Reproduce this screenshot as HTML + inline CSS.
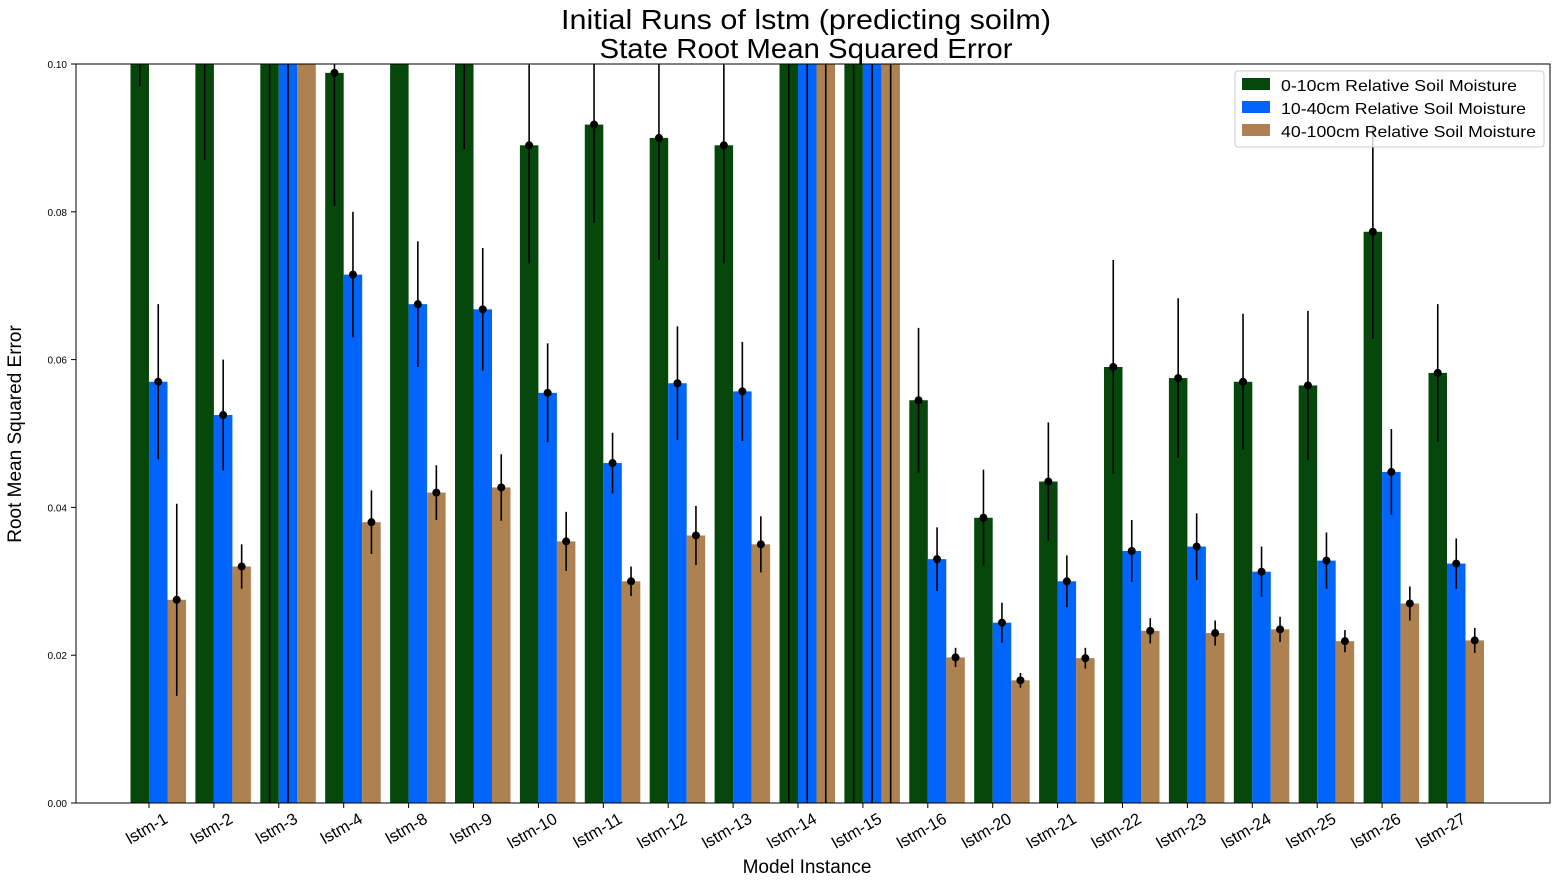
<!DOCTYPE html>
<html><head><meta charset="utf-8"><style>
body{margin:0;background:#fff;}
svg{font-family:"Liberation Sans","DejaVu Sans",sans-serif;}
</style></head><body>
<svg id="chart" width="1559" height="884" viewBox="0 0 1559 884">
<defs><clipPath id="plotclip"><rect x="76" y="64" width="1474" height="739"/></clipPath></defs>
<text x="806" y="29" text-anchor="middle" font-size="28" textLength="490" lengthAdjust="spacingAndGlyphs">Initial Runs of lstm (predicting soilm)</text>
<text x="806" y="58" text-anchor="middle" font-size="28" textLength="413" lengthAdjust="spacingAndGlyphs">State Root Mean Squared Error</text>
<g id="bars" clip-path="url(#plotclip)"></g>
<g id="errs" clip-path="url(#plotclip)"></g>
<rect x="76" y="64" width="1474" height="739" fill="none" stroke="#000" stroke-width="1"/>
<g id="yaxis"></g>
<g id="xaxis"></g>
<text transform="translate(21,434) rotate(-90)" text-anchor="middle" font-size="19">Root Mean Squared Error</text>
<text x="807" y="873" text-anchor="middle" font-size="19">Model Instance</text>
<g>
<rect x="1235" y="71" width="309" height="76" rx="3" fill="#fff" fill-opacity="0.8" stroke="#ccc"/>
<rect x="1242" y="78" width="28" height="12" fill="#06470c"/>
<text x="1281" y="91" font-size="16" textLength="236" lengthAdjust="spacingAndGlyphs">0-10cm Relative Soil Moisture</text>
<rect x="1242" y="101" width="28" height="12" fill="#0165fc"/>
<text x="1281" y="114" font-size="16" textLength="245" lengthAdjust="spacingAndGlyphs">10-40cm Relative Soil Moisture</text>
<rect x="1242" y="124" width="28" height="12" fill="#ad8150"/>
<text x="1281" y="137" font-size="16" textLength="255" lengthAdjust="spacingAndGlyphs">40-100cm Relative Soil Moisture</text>
</g>
</svg>
<script>
const categories=["lstm-1","lstm-2","lstm-3","lstm-4","lstm-8","lstm-9","lstm-10","lstm-11","lstm-12","lstm-13","lstm-14","lstm-15","lstm-16","lstm-20","lstm-21","lstm-22","lstm-23","lstm-24","lstm-25","lstm-26","lstm-27"];
const green=[0.118,0.112,0.15,0.0988,0.125,0.11,0.089,0.0918,0.090,0.089,0.16,0.14,0.0545,0.0386,0.0435,0.059,0.0575,0.057,0.0565,0.0773,0.0582];
const greenErr=[0.021,0.025,0.16,0.018,0.01,0.0215,0.016,0.0133,0.0165,0.016,0.17,0.15,0.0098,0.0065,0.008,0.0145,0.0108,0.0092,0.0101,0.0145,0.0093];
const blue=[0.057,0.0525,0.2,0.0715,0.0675,0.0668,0.0555,0.046,0.0568,0.0557,0.18,0.19,0.033,0.0244,0.030,0.0341,0.0347,0.0313,0.0328,0.0448,0.0324];
const blueErr=[0.0105,0.0075,0.21,0.0085,0.0085,0.0083,0.0067,0.0041,0.0077,0.0067,0.19,0.2,0.0043,0.0027,0.0035,0.0042,0.0045,0.0034,0.0038,0.0058,0.0034];
const brown=[0.0275,0.032,0.13,0.038,0.042,0.0427,0.0354,0.030,0.0362,0.035,0.15,0.13,0.0197,0.0166,0.0196,0.0233,0.023,0.0235,0.0219,0.027,0.022];
const brownErr=[0.013,0.003,0.01,0.0043,0.0037,0.0045,0.004,0.002,0.004,0.0038,0.16,0.14,0.0013,0.001,0.0014,0.0017,0.0017,0.0017,0.0015,0.0023,0.0017];
const yTicks=[0,0.02,0.04,0.06,0.08,0.10];
const yTickLabels=["0.00","0.02","0.04","0.06","0.08","0.10"];
const NS="http://www.w3.org/2000/svg";
const y=v=>803-v*7390;
const xc=i=>149+i*64.9;
const BW=18.5;
function mk(tag,attrs,parent){const e=document.createElementNS(NS,tag);for(const k in attrs)e.setAttribute(k,attrs[k]);parent.appendChild(e);return e;}
const bars=document.getElementById('bars'),errs=document.getElementById('errs');
const series=[[green,greenErr,"#06470c",-1,"green"],[blue,blueErr,"#0165fc",0,"blue"],[brown,brownErr,"#ad8150",1,"brown"]];
categories.forEach((c,i)=>{
  series.forEach(s=>{
    const v=s[0][i],e=s[1][i],cx=xc(i)+s[3]*BW+BW/2;
    const r=mk('rect',{x:cx-BW/2,y:y(v),width:BW,height:803-y(v),fill:s[2]},bars);
    
    
    const l=mk('line',{x1:cx,x2:cx,y1:y(v-e),y2:y(v+e),stroke:'#000','stroke-width':1.6},errs);
    
    
    const d=mk('circle',{cx:cx,cy:y(v),r:4,fill:'#000'},errs);
    
    
  });
  const xa=document.getElementById('xaxis');
  const t=mk('line',{x1:xc(i),x2:xc(i),y1:803,y2:808,stroke:'#000'},xa);
  
  
  const tx=mk('text',{x:0,y:0,'font-size':16.5,'text-anchor':'end',transform:`translate(${xc(i)+20},${822}) rotate(-30)`},xa);
  tx.textContent=c;
  
  
});
const ya=document.getElementById('yaxis');
yTicks.forEach((v,k)=>{
  const t=mk('line',{x1:71,x2:76,y1:y(v),y2:y(v),stroke:'#000'},ya);
  
  
  const tx=mk('text',{x:67,y:y(v)+4,'font-size':10,'text-anchor':'end'},ya);
  tx.textContent=yTickLabels[k];
  
  
});
</script>
</body></html>
